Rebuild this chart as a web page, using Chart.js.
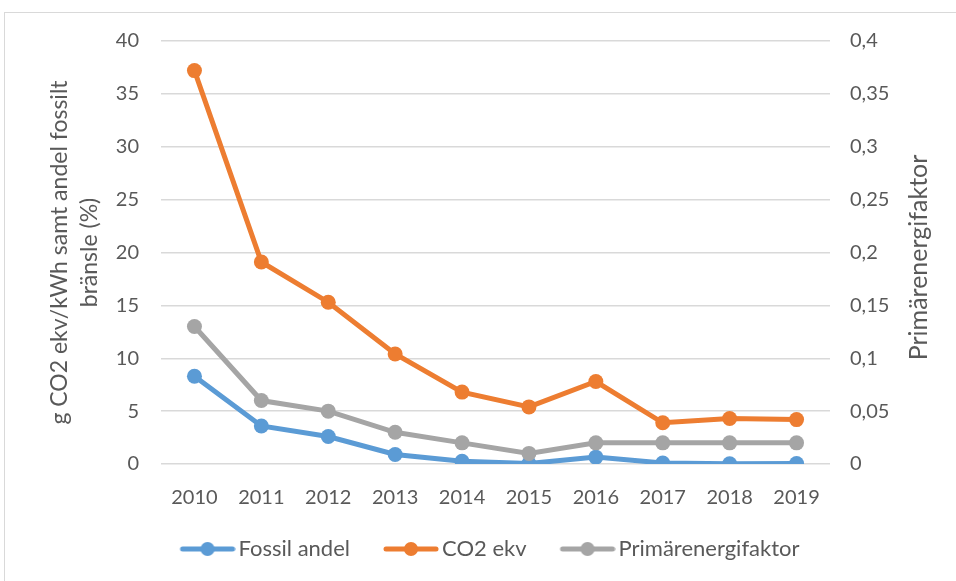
<!DOCTYPE html>
<html>
<head>
<meta charset="utf-8">
<title>Fossil andel, CO2 ekv och primärenergifaktor</title>
<script src="https://cdn.jsdelivr.net/npm/chart.js"></script>
<style>
    html, body { margin: 0; padding: 0; background: #fff; overflow: hidden; }
    #wrap { position: relative; width: 956px; height: 581px; }
    #frame {
        position: absolute; left: 4px; top: 12px; width: 1200px; height: 800px;
        border-left: 1px solid #d9d9d9; border-top: 1px solid #d9d9d9;
        pointer-events: none;
    }
    canvas { position: absolute; left: 0; top: 0; }
</style>
</head>
<body>
<div id="wrap">
    <div id="frame"></div>
    <canvas id="chart" width="956" height="581"></canvas>
</div>

<script>

    const years = ['2010', '2011', '2012', '2013', '2014', '2015', '2016', '2017', '2018', '2019']

    const fossilAndel = [8.3, 3.6, 2.6, 0.9, 0.25, 0.05, 0.65, 0.1, 0.02, 0.05]
    const co2Ekv = [37.2, 19.1, 15.3, 10.4, 6.8, 5.4, 7.8, 3.9, 4.3, 4.2]
    const primarenergifaktor = [0.13, 0.06, 0.05, 0.03, 0.02, 0.01, 0.02, 0.02, 0.02, 0.02]

    const leftTicks = ['0', '5', '10', '15', '20', '25', '30', '35', '40']
    const rightTicks = ['0', '0,05', '0,1', '0,15', '0,2', '0,25', '0,3', '0,35', '0,4']

    const blue = '#5b9bd5'
    const orange = '#ed7d31'
    const grey = '#a5a5a5'
    const textColor = '#595959'
    const font = 'Lato'

    // line + dot pictures for the legend, blank on the left to space the items like Excel does
    function legendIcon(color) {
        const c = document.createElement('canvas')
        c.width = 87
        c.height = 16
        const g = c.getContext('2d')
        g.strokeStyle = color
        g.lineWidth = 5
        g.lineCap = 'round'
        g.beginPath()
        g.moveTo(34, 8)
        g.lineTo(84, 8)
        g.stroke()
        g.fillStyle = color
        g.beginPath()
        g.arc(59, 8, 7, 0, Math.PI * 2)
        g.fill()
        return c
    }
    const icons = [legendIcon(blue), legendIcon(orange), legendIcon(grey)]

    const rightTitle = {
        id: 'rightTitle',
        afterDraw(chart) {
            const ctx = chart.ctx
            const area = chart.chartArea
            ctx.save()
            ctx.translate(919, (area.top + area.bottom) / 2 + 5)
            ctx.rotate(-Math.PI / 2)
            ctx.font = '25px ' + font
            ctx.fillStyle = textColor
            ctx.textAlign = 'center'
            ctx.textBaseline = 'middle'
            ctx.fillText('Primärenergifaktor', 0, 0)
            ctx.restore()
        }
    }

    const line = (label, data, color, axis, order) => ({
        label: label,
        data: data,
        yAxisID: axis,
        order: order,
        borderColor: color,
        backgroundColor: color,
        borderWidth: 5,
        pointRadius: 7.5,
        pointBorderWidth: 0,
        pointBackgroundColor: color,
        tension: 0
    })

    new Chart(document.getElementById('chart'), {
        type: 'line',
        data: {
            labels: years,
            datasets: [
                line('Fossil andel', fossilAndel, blue, 'y', 2),
                line('CO2 ekv', co2Ekv, orange, 'y', 1),
                line('Primärenergifaktor', primarenergifaktor, grey, 'y1', 0)
            ]
        },
        plugins: [rightTitle],
        options: {
            responsive: false,
            animation: false,
            devicePixelRatio: 1,
            layout: { padding: { top: 41, left: 0, right: 0, bottom: 11 } },
            plugins: {
                tooltip: { enabled: false },
                legend: {
                    position: 'bottom',
                    labels: {
                        usePointStyle: true,
                        pointStyleWidth: 71,
                        padding: 10,
                        color: textColor,
                        font: { family: font, size: 22 },
                        sort: (a, b) => a.datasetIndex - b.datasetIndex,
                        generateLabels: chart => Chart.defaults.plugins.legend.labels.generateLabels(chart)
                            .map(item => ({ ...item, pointStyle: icons[item.datasetIndex] }))
                    }
                }
            },
            scales: {
                x: {
                    offset: true,
                    grid: { display: false },
                    border: { display: false },
                    ticks: { color: textColor, font: { family: font, size: 20 }, padding: 14, maxRotation: 0 },
                    afterFit: scale => { scale.height = 64 }
                },
                y: {
                    position: 'left',
                    min: 0,
                    max: 40,
                    ticks: {
                        stepSize: 5,
                        color: textColor,
                        font: { family: font, size: 20 },
                        padding: 22,
                        callback: (v, i) => leftTicks[i]
                    },
                    grid: { color: '#d9d9d9', lineWidth: 1.5, drawTicks: false },
                    border: { display: false },
                    title: {
                        display: true,
                        text: ['g CO2 ekv/kWh samt andel fossilt', 'bränsle (%)'],
                        color: textColor,
                        font: { family: font, size: 23, lineHeight: 1.3 },
                        padding: { top: 45, bottom: 0 }
                    },
                    afterFit: scale => { scale.width = 161 }
                },
                y1: {
                    position: 'right',
                    min: 0,
                    max: 0.4,
                    ticks: {
                        stepSize: 0.05,
                        color: textColor,
                        font: { family: font, size: 20 },
                        padding: 20,
                        callback: (v, i) => rightTicks[i]
                    },
                    grid: { display: false, drawTicks: false },
                    border: { display: false },
                    afterFit: scale => { scale.width = 126 }
                }
            }
        }
    })

</script>
</body>
</html>
